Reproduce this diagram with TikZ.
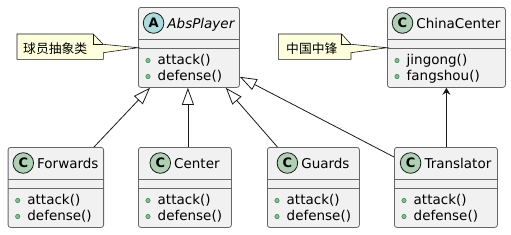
\documentclass[tikz,border=0pt]{standalone}
\usepackage{fontspec}
\setmainfont{DejaVu Sans}
\newfontfamily\cjk{Noto Sans CJK SC}
\usetikzlibrary{positioning,arrows.meta,calc}
\usepackage{xcolor}
\definecolor{boxfill}{HTML}{F1F1F1}
\definecolor{boxline}{HTML}{181818}
\definecolor{notefill}{HTML}{FEFFDD}
\definecolor{absicon}{HTML}{A9DCDF}
\definecolor{clsicon}{HTML}{ADD1B2}
\definecolor{dotfill}{HTML}{84BE84}
\definecolor{dotline}{HTML}{038048}

\newcommand{\umlclass}[9]{%
  \node[clsbox, minimum width=#4, anchor=north west] (#1) at (#2,#3) {};
  \draw[sep] ([yshift=-32pt]#1.north west) -- ([yshift=-32pt]#1.north east);
  \draw[sep] ([yshift=-41pt]#1.north west) -- ([yshift=-41pt]#1.north east);
  \node[clsname, anchor=base] (#1-name) at ([xshift=12pt,yshift=-21.3pt]#1.north) {#7};
  \node[icon, fill=#6, anchor=east] (#1-icon) at ($(#1-name.west |- #1.north)+(-3,16)$) {#5};
  \node[dot] (#1-d1) at ($(#1.north west)+(10,53.5)$) {};
  \node[dot] (#1-d2) at ($(#1.north west)+(10,69.5)$) {};
  \node[meth] (#1-m1) at ($(#1.north west)+(19.5,57)$) {#8};
  \node[meth] (#1-m2) at ($(#1.north west)+(19.5,73)$) {#9};
}

\begin{document}
\begin{tikzpicture}[
  x=1pt, y=-1pt,
  clsbox/.style={draw=black!60, fill=boxfill, rounded corners=2.5pt,
                 minimum height=80pt, line width=0.8pt, inner sep=0pt},
  sep/.style={draw=black!60, line width=0.8pt},
  clsname/.style={inner sep=0pt, font=\fontsize{13.5}{16}\selectfont},
  icon/.style={circle, draw=boxline, line width=0.8pt, minimum size=20.6pt,
               inner sep=0pt, font=\fontsize{13}{13}\selectfont\bfseries},
  dot/.style={circle, fill=dotfill, draw=dotline, line width=0.4pt,
              minimum size=4.4pt, inner sep=0pt},
  meth/.style={anchor=base west, inner sep=0pt, font=\fontsize{13.5}{16}\selectfont},
  notebox/.style={draw=boxline, fill=notefill, line width=0.6pt},
  notetext/.style={anchor=west, inner sep=0pt, font=\cjk\fontsize{12.8}{14}\selectfont},
  inh/.style={draw=boxline, line width=0.8pt, -{Triangle[open, length=17pt, width=12pt]}},
  assoc/.style={draw=boxline, line width=0.9pt, -{Stealth[length=7pt, width=8pt, inset=2.5pt]}},
]
  \useasboundingbox (0,0) rectangle (511,234);

  \umlclass{abs}{138}{7}{101}{A}{absicon}{\itshape AbsPlayer}{attack()}{defense()}
  \umlclass{chn}{387}{7}{118}{C}{clsicon}{ChinaCenter}{jingong()}{fangshou()}
  \umlclass{fwd}{7.7}{147}{95.5}{C}{clsicon}{Forwards}{attack()}{defense()}
  \umlclass{cen}{138}{147}{93}{C}{clsicon}{Center}{attack()}{defense()}
  \umlclass{grd}{267}{147}{92}{C}{clsicon}{Guards}{attack()}{defense()}
  \umlclass{trl}{394}{147}{103}{C}{clsicon}{Translator}{attack()}{defense()}

  % notes
  \draw[notebox] (17,34) -- (93.3,34) -- (103.3,44.3) -- ($(abs.north west)+(0,40.7)$)
    -- (103.3,52.7) -- (103.3,59.3) -- (17,59.3) -- cycle;
  \draw[notebox, fill=none] (93.3,34) -- (93.3,44.3) -- (103.3,44.3);
  \node[notetext] (note-abs) at (23,48.3) {球员抽象类};

  \draw[notebox] (278.3,34) -- (341.7,34) -- (351,44.3) -- ($(chn.north west)+(0,40.7)$)
    -- (351,52.7) -- (351,59.3) -- (278.3,59.3) -- cycle;
  \draw[notebox, fill=none] (341.7,34) -- (341.7,44.3) -- (351,44.3);
  \node[notetext] (note-chn) at (286,48.3) {中国中锋};

  \draw[inh] ([xshift=-10pt]fwd.north east) -- ([xshift=12pt]abs.south west);
  \draw[inh] ([xshift=3pt]cen.north) -- ([xshift=-1pt]abs.south);
  \draw[inh] ([xshift=-36pt]grd.north) -- ([xshift=-14pt]abs.south east);
  \draw[inh] ([yshift=-10pt]trl.north west) -- ([yshift=11pt]abs.south east);
  \draw[assoc] (chn.south |- trl.north) -- (chn.south);
\end{tikzpicture}
\end{document}
